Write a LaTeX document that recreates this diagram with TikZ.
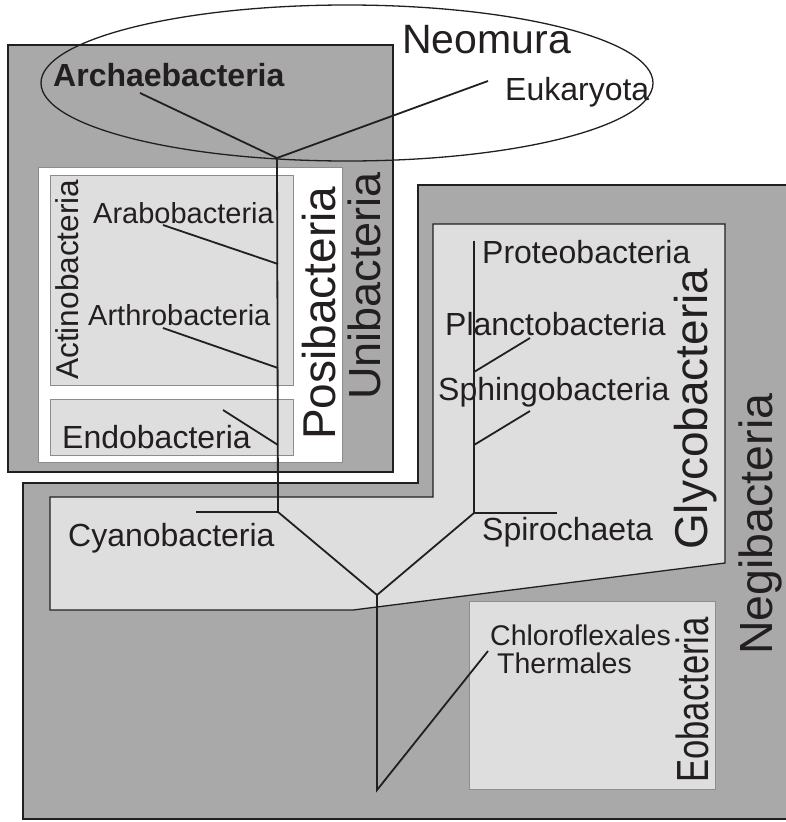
\documentclass[tikz,border=0pt]{standalone}
\usepackage{fontspec}
\setmainfont{Liberation Sans}
\usetikzlibrary{positioning}
\definecolor{ink}{HTML}{231F20}
\definecolor{darkfill}{HTML}{A9A9A9}
\definecolor{lightfill}{HTML}{DEDEDE}
\definecolor{rim}{HTML}{8C8C8C}

\begin{document}
\begin{tikzpicture}[x=1pt, y=-1pt,
    taxon/.style={text=ink, inner sep=0pt, anchor=base west, font=\fontsize{32}{36}\selectfont},
    smalltaxon/.style={taxon, font=\fontsize{29}{32}\selectfont},
    group/.style={text=ink, inner sep=0pt, anchor=base west, rotate=90, font=\fontsize{46}{50}\selectfont},
    branch/.style={draw=ink, line width=1.8pt},
    outerbox/.style={draw=ink, line width=1.8pt, fill=darkfill},
    innerbox/.style={draw=rim, line width=1pt, fill=lightfill}]
    \useasboundingbox (0,0) rectangle (786,822);
    \clip (0,0) rectangle (786,822);

    % Cajas de los grupos
    \path[outerbox] (8,45) rectangle (393,472);
    \path[draw=rim, line width=1pt, fill=white] (38,167) rectangle (342,462);
    \path[innerbox] (50,175) rectangle (293,385);
    \path[innerbox] (50,399) rectangle (293,455);
    \path[outerbox] (23,483) -- (418,483) -- (418,185) -- (792,185) -- (792,819) -- (23,819) -- cycle;
    \path[innerbox, draw=ink, line width=1.3pt] (50,497) -- (433,497) -- (433,224) -- (725,224) -- (725,563) -- (353,610) -- (50,610) -- cycle;
    \path[innerbox] (469,601) rectangle (715,789);
    \draw[ink, line width=1.3pt] (347,83) ellipse [x radius=306, y radius=78];

    % Puntos del arbol
    \coordinate (root) at (277,158);
    \coordinate (archend) at (140,93);
    \coordinate (eukend) at (488,81);
    \coordinate (posia) at (278,264);
    \coordinate (araend) at (163,225);
    \coordinate (posib) at (278,368);
    \coordinate (arthend) at (163,328);
    \coordinate (posic) at (278,445);
    \coordinate (endoend) at (223,410);
    \coordinate (unij) at (278,512);
    \coordinate (cyanend) at (196,512);
    \coordinate (base) at (377,595);
    \coordinate (glyj) at (474,513);
    \coordinate (glytop) at (474,241);
    \coordinate (spiroend) at (557,513);
    \coordinate (planj) at (474,372);
    \coordinate (planend) at (530,338);
    \coordinate (sphj) at (474,445);
    \coordinate (sphend) at (530,411);
    \coordinate (eoj) at (377,790);
    \coordinate (eoend) at (488,651);

    % Ramas
    \draw[branch] (archend) -- (root) -- (eukend);
    \draw[branch] (root) -- (unij) -- (base) -- (glyj) -- (glytop);
    \draw[branch] (araend) -- (posia);
    \draw[branch] (arthend) -- (posib);
    \draw[branch] (endoend) -- (posic);
    \draw[branch] (cyanend) -- (unij);
    \draw[branch] (glyj) -- (spiroend);
    \draw[branch] (planj) -- (planend);
    \draw[branch] (sphj) -- (sphend);
    \draw[branch] (base) -- (eoj) -- (eoend);

    % Nombres
    \node (arch) [taxon, font=\fontsize{32}{36}\selectfont\bfseries] at (53,86) {Archaebacteria};
    \node (neomura) [taxon, font=\fontsize{41}{44}\selectfont] at (402,53) {Neomura};
    \node (euk) [taxon] at (505,100) {Eukaryota};
    \node (arabo) [smalltaxon] at (93,223) {Arabobacteria};
    \node (arthro) [smalltaxon] at (88,325) {Arthrobacteria};
    \node (endo) [taxon] at (62,448) {Endobacteria};
    \node (actino) [group, font=\fontsize{31.6}{34}\selectfont] at (78,380) {Actinobacteria};
    \node (posi) [group] at (335,440) {Posibacteria};
    \node (uni) [group, font=\fontsize{45}{48}\selectfont] at (380,400) {Unibacteria};
    \node (proteo) [taxon] at (482,263) {Proteobacteria};
    \node (plancto) [taxon] at (445,335) {Planctobacteria};
    \node (sphingo) [taxon] at (438,400) {Sphingobacteria};
    \node (spiro) [taxon] at (482,540) {Spirochaeta};
    \node (glyco) [group] at (707,550) {Glycobacteria};
    \node (cyano) [taxon] at (68,546) {Cyanobacteria};
    \node (chloro) [taxon, font=\fontsize{28.5}{31}\selectfont] at (490,645) {Chloroflexales};
    \node (thermales) [taxon, font=\fontsize{28.5}{31}\selectfont] at (497,673) {Thermales};
    \node (eo) [group, font=\fontsize{45}{48}\selectfont] at (708,783) {\scalebox{0.77}[1]{Eobacteria}};
    \node (negi) [group, font=\fontsize{46.5}{50}\selectfont] at (772,655) {Negibacteria};
\end{tikzpicture}
\end{document}
